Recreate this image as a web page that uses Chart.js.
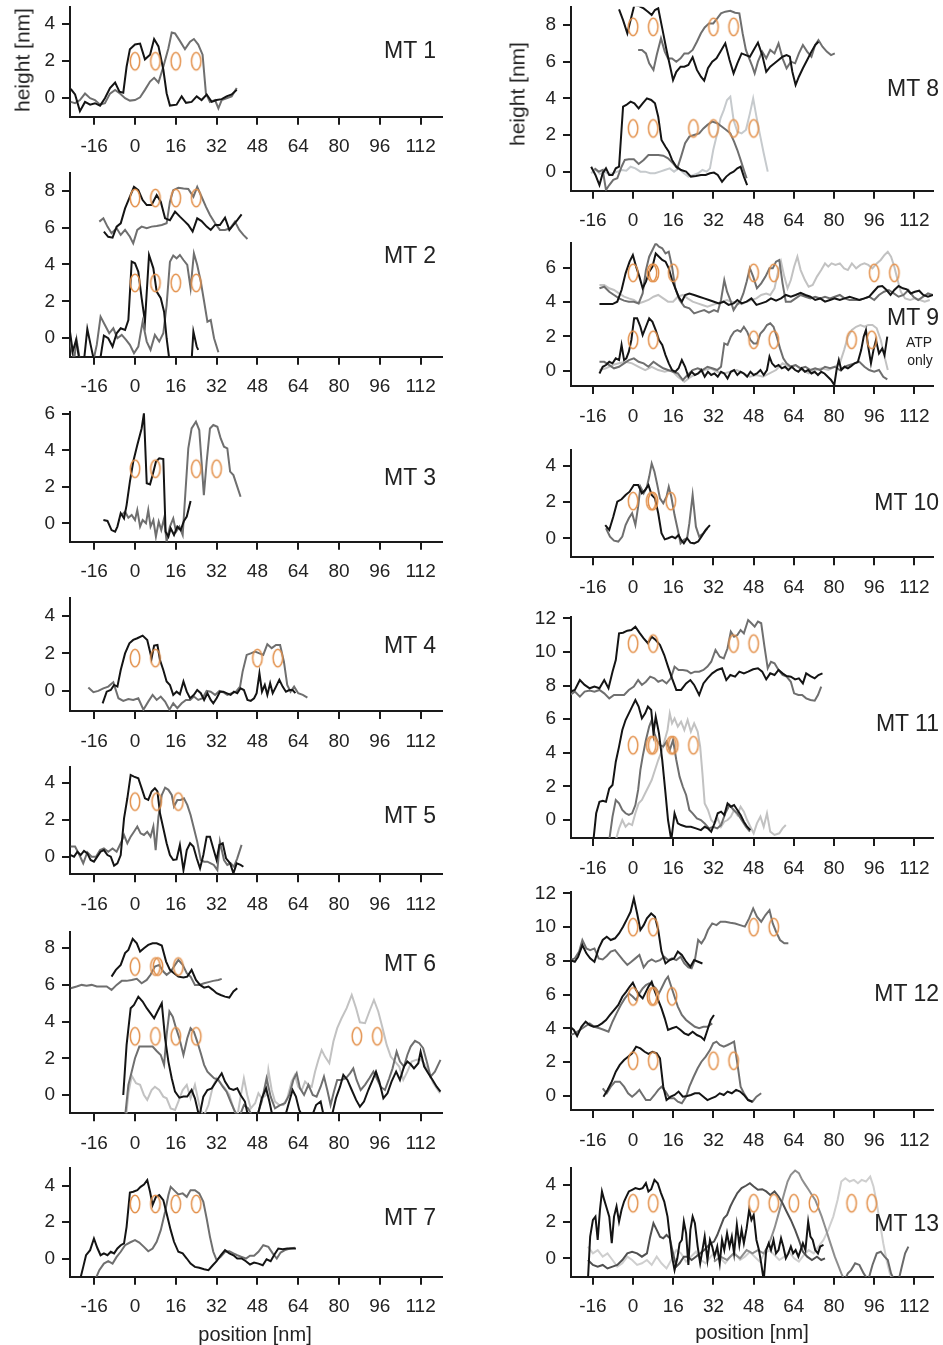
<!DOCTYPE html>
<html>
<head>
<meta charset="utf-8">
<script src="https://cdn.jsdelivr.net/npm/chart.js@4.4.1/dist/chart.umd.min.js"></script>
<style>
  html, body { margin: 0; padding: 0; background: #fff; }
  #page { position: relative; width: 943px; height: 1345px; overflow: hidden; font-family: "Liberation Sans", Arial, sans-serif; color: #222; }
  #page canvas { position: absolute; }
  .lbl { position: absolute; white-space: nowrap; line-height: 1; }
</style>
</head>
<body>
<div id="page"></div>
<script>
// x ticks shared by every panel
const xTicks = [-16, 0, 16, 32, 48, 64, 80, 96, 112];
const yTicks4 = [0, 2, 4];
const yTicks6 = [0, 2, 4, 6];
const yTicks8 = [0, 2, 4, 6, 8];
const yTicks12 = [0, 2, 4, 6, 8, 10, 12];

// traces: flat x,y pairs (nm), null,null = gap
const mt1Black = [-25.2,0.5, -23.5,0.2, -21.6,-0.7, -19.6,-0.2, -17.6,-0.35, -15.7,-0.27, -13.7,-0.4, -11.8,0, -9.8,0.55, -7.8,0.85, -6.1,0.35, -4.6,0.3, -3.3,1.7, -2,2.65, 0,2.9, 2,2.95, 3.9,2.1, 5.9,2.35, 7.5,3.2, 9.2,2.8, 11.1,1.55, 12.4,0.27, 13.7,-0.4, 16.3,-0.35, 18.3,0.1, 20,-0.25, 22.2,-0.2, 24.2,0.1, 26.1,-0.1, 28.1,0.2, 30.1,-0.2, 32,-0.1, 34,-0.05, 35.9,0.1, 37.9,0.2, 39.9,0.45];
const mt1Gray = [-25.2,-0.2, -23.5,-0.27, -21.6,-0.1, -19.6,0.25, -17.6,0, -15.7,-0.1, -13.7,-0.35, -11.8,-0.27, -9.8,0.25, -7.8,0.45, -5.9,0.25, -3.9,0, -2,-0.13, 0,-0.1, 2,0.05, 3.9,0.45, 5.9,0.9, 7.5,1.1, 9.2,0.85, 11.1,1.7, 13.1,2.7, 14.4,3.55, 15.7,3.5, 17.6,3.1, 19.6,2.65, 21.6,3.05, 23.1,3.2, 24.8,2.9, 26.5,2.35, 27.8,0.27, 29.4,-0.2, 31.4,-0.1, 32.7,-0.55, 34,-0.1, 35.9,0, 37.9,0.1, 39.9,0.55];
const mt1Rings = [0,2, 8,2, 16,2, 24,2];

const mt2BlackTop = [-12.2,5.78, -10.5,5.5, -8.8,5.45, -7.2,6.05, -5.6,6.23, -3.9,7.04, -2,7.67, -0.4,8.21, 1.3,8.03, 3,7.49, 4.6,7.22, 6.5,7.22, 8.5,7.76, 10.1,7.4, 11.8,6.5, 13.7,6.4, 15.7,6.86, 17.6,6.59, 19.6,6.32, 20.9,6.14, 22.6,5.78, 24.4,6.5, 26.1,6.35, 28.1,6.05, 29.7,5.87, 31.4,6.14, 33.3,6.14, 35.3,6.53, 37,5.87, 38.6,6.14, 40.1,6.4, 41.8,6.71];
const mt2GrayTop = [-14,6.32, -12.4,6.5, -10.8,6.05, -9.2,5.69, -7.2,5.96, -5.6,5.6, -3.9,5.87, -2,5.5, -0.7,5.14, 0.9,5.87, 2.6,6.05, 4.6,5.96, 6.5,6.05, 8.5,6.08, 10.5,6.14, 12.4,6.23, 13.7,7.4, 15,8.03, 17,8.16, 19,8.12, 20.9,8.09, 22.9,7.67, 24.4,8.21, 26.1,7.67, 27.8,7.13, 29.4,6.68, 31.4,6.23, 33.3,5.87, 35.3,5.87, 37.3,5.96, 39.2,6.32, 40.9,5.87, 42.5,5.6, 44.1,5.38];
const mt2Black = [-25.5,0.36, -24.4,-0.72, -23.1,-0.09, -21.8,-1.2, -20,-1.2, -18.7,0.5, -17.4,-0.36, -16.1,-1.2, -13.7,-1.2, -12.2,0.14, -10.5,0, -8.8,-0.45, -7.2,0.27, -5.6,0.54, -3.9,0.45, -2.6,0.99, -1.3,4.15, 0,4.06, 1.3,3.61, 2.6,2.17, 3.9,0.9, 5.5,4.51, 7.2,3.79, 8.5,2.53, 10.1,2.17, 11.4,1.44, 12.4,0, 13.5,-1.2, null,null, 22.2,-1.2, 22.9,0.36, 24.2,-0.45, 24.8,-0.63];
const mt2Gray = [-25.5,-0.18, -23.9,-1.2, -22.9,-0.09, -21.6,-1.2, -16.3,-1.2, -15,-0.36, -13.5,1.17, -11.8,0.72, -10.1,0.27, -8.5,0.54, -6.9,0, -5.2,0.18, -3.5,-0.09, -2,-0.36, -0.4,-0.81, 1.3,-0.45, 3,0.9, 4.6,-0.18, 6.1,-0.63, 7.8,0.18, 9.5,-0.18, 11.1,0.27, 12.4,1.8, 13.7,4.15, 15,4.48, 16.3,4.33, 17.6,4.51, 19,4.24, 20.5,3.97, 21.8,2.71, 23.1,4.6, 24.4,3.97, 25.8,3.07, 27.1,1.99, 28.4,0.9, 29.7,0.99, 31,0, 32.7,-0.76];
const mt2Rings = [0,7.6, 8,7.6, 16,7.6, 24,7.6, 0,3, 8,3, 16,3, 24,3];

const mt3Black = [-12.4,0.18, -10.8,0.13, -9.2,-0.37, -7.8,-0.46, -6.9,-0.18, -5.6,0.55, -4.3,0.27, -3.3,1, -2,2.29, -0.7,3.38, 0.9,4.3, 2.6,5.21, 3.5,6.04, 4.6,2.2, 5.9,2.14, 6.9,2.65, 8.2,3.38, 9.5,3.57, 11.1,3.53, 12,-0.46, 13.1,-0.73, 14,-0.27, 15.3,-0.64, 16.6,-0.18, 17.9,-0.37, 19.2,0.13, 20.3,0.37, 21.8,1.23];
const mt3Gray = [-5.2,0.46, -3.9,0.64, -2.6,0.31, -1.3,0.46, 0,0.18, 0.9,0.73, 2,-0.18, 3,0.18, 4.3,0, 5.2,0.73, 6.1,-0.18, 7.2,0.18, 8.2,-0.73, 9.3,0.09, 10.3,-0.37, 11.4,0.27, 12.4,-1, 13.7,-0.18, 15,0.27, 16.1,-0.46, 17.4,-0.18, 18.7,-0.64, 19.7,1.55, 20.9,4.12, 22.2,5.21, 23.9,5.58, 25.2,5.12, 26.1,3.38, 27,1.55, 28.1,3.38, 29.4,5.21, 30.7,5.4, 32.3,5.3, 33.6,4.66, 34.9,4.21, 36.2,4.12, 37.3,2.84, 38.6,2.65, 39.9,2.1, 41.4,1.46];
const mt3Rings = [0,3, 8,3, 24,3, 32,3];

const mt4Black = [-12.7,-0.66, -11.1,-0.04, -9.5,0.05, -8.2,0.32, -6.9,0.23, -5.6,1.12, -3.9,2.0, -2.2,2.54, -0.7,2.72, 0.9,2.81, 3,2.95, 4.8,2.72, 6.5,1.74, 7.5,2.42, 8.8,2.45, 9.8,1.65, 11.1,1.12, 12.4,0.5, 13.7,0.32, 15,-0.21, 16.3,-0.04, 17.6,-0.18, 19,0.5, 20.3,-0.04, 21.6,-0.39, 23.1,-0.21, 24.4,0.05, 25.8,-0.12, 27.1,-0.48, 28.4,-0.12, 29.7,-0.48, 30.7,-0.66, 32,-0.39, 33.3,-0.04, 34.6,-0.04, 35.9,-0.12, 37.5,-0.21, 38.8,-0.04, 40.1,-0.12, 41.4,0.14, 42.7,0.05, 44.1,-0.48, 45.4,-0.53, 46.7,-0.39, 47.7,-0.12, 48.8,0.94, 49.8,-0.04, 50.9,0.32, 51.9,-0.21, 53,0.41, 54,-0.12, 55.3,0.23, 56.6,0.59, 57.9,0.23, 59.2,-0.04, 60.5,0.05, 61.8,0.05, 62.9,-0.12];
const mt4Gray = [-18.3,0.18, -16.3,-0.07, -14.4,0, -12.4,0.14, -10.5,0.23, -8.5,0.46, -6.5,-0.39, -4.6,-0.53, -2.6,-0.43, -0.7,-0.48, 1.3,-0.39, 3.3,-1, 5.2,-0.57, 6.9,-0.21, 8.5,-0.48, 10.1,-0.3, 11.8,-0.57, 13.5,-1, 15,-0.66, 16.6,-0.92, 18.3,-0.66, 20,-0.48, 21.6,-0.48, 23.1,-0.3, 24.8,-0.48, 26.5,-0.39, 28.1,0, 29.7,-0.04, 31.4,-0.21, 33.1,0, 34.6,-0.07, 36.2,-0.21, 37.9,-0.12, 39.6,-0.04, 41.2,0.23, 42.2,1.03, 43.8,1.92, 45.4,2.0, 47.1,2.1, 48.8,2.0, 50.3,1.92, 51.9,2.49, 53.6,2.28, 55.3,2.45, 56.9,2.45, 58.4,1.56, 59.7,0.32, 61,-0.04, 62.4,0.23, 64,-0.12, 65.8,-0.21, 67.6,-0.36];
const mt4Rings = [0,1.75, 8,1.75, 48,1.75, 56,1.75];

const mt5Black = [-25.2,0.09, -23.9,0, -22.6,0.27, -21.3,0.09, -20,0.31, -18.7,0.18, -17.4,-0.18, -16.1,-0.27, -14.8,0, -13.5,0.27, -12.2,0.36, -10.8,0.09, -9.5,0, -8.2,-0.49, -6.9,-0.36, -5.6,0.09, -4.3,2.09, -3,3.18, -1.7,4.45, -0.4,4.36, 1.3,4.27, 2.6,3.73, 3.9,3.18, 5.2,3.09, 6.5,3.55, 7.8,3.73, 8.8,3.55, 9.8,2.36, 11.1,1.55, 12.4,0.73, 13.7,0.09, 15,-0.18, 16.3,-0.15, 17.6,0.64, 19,-0.73, 20.3,0.36, 21.6,0.73, 22.9,0.55, 24.2,-0.09, 25.5,-0.64, 26.8,0.09, 28.1,1.09, 29.4,1.09, 30.7,0.45, 32,-0.18, 33.1,0.64, 34.4,0.73, 35.7,-0.09, 37.3,-0.36, 38.6,-0.91, 39.9,-0.36, 41.4,-0.45, 42.5,-0.55];
const mt5Gray = [-25.2,0.55, -23.5,0.55, -21.8,0.09, -20.3,-0.36, -18.7,0.24, -17,0, -15.3,0, -13.7,0.36, -12.2,0.45, -10.5,0.27, -8.8,0.45, -7.2,0.27, -5.6,0.73, -4.3,1.18, -3,0.73, -1.7,1.09, -0.4,1.36, 0.9,1.64, 2.2,1.27, 3.5,1.18, 4.8,1.36, 6.1,1.09, 7.2,1.64, 8.1,0.36, 9.2,2.18, 10.5,3.36, 11.8,3.76, 13.1,3.64, 14.4,3.36, 15.3,2.73, 16.6,3.09, 17.9,3.09, 19.2,3.18, 20.5,2.82, 21.8,2.27, 23.1,1.55, 24.4,0.82, 25.8,-0.18, 27.1,-0.27, 28.4,-0.27, 29.7,-0.36, 30.9,-0.45, 32.3,-0.73, 33.3,0.82, 34.9,-0.18, 36.2,-0.45, 37.5,-0.36, 38.8,-0.55, 40.1,-0.09, 41.8,0.64];
const mt5Rings = [0,3, 8.5,3, 17,3];

const mt6BlackTop = [-9.2,6.45, -7.5,6.82, -5.6,7.09, -3.9,7.73, -2.6,7.91, -0.9,8.51, 0.7,8.27, 2,7.82, 3.5,8.0, 5.2,8.18, 6.9,8.27, 8.5,8.27, 10.5,8.15, 12.2,7.27, 13.7,6.82, 15.3,6.64, 17,6.45, 19,6.4, 20.5,6.45, 22.2,6.82, 23.9,6.27, 25.5,6.0, 27.1,5.85, 28.8,5.91, 30.5,5.73, 32,5.55, 33.6,5.45, 35.3,5.36, 37,5.31, 38.6,5.64, 40.1,5.82];
const mt6GrayTop = [-25.2,5.82, -22.9,5.91, -20.9,6.0, -19,5.96, -17,6.0, -15,5.91, -13.1,5.91, -11.1,5.91, -9.2,5.73, -7.2,6.0, -5.2,6.22, -3.3,6.22, -1.3,6.27, 0.7,6.33, 2.6,6.09, 4.6,6.27, 6.1,6.55, 7.8,7.0, 9.5,7.09, 11.1,6.73, 12.4,6.55, 14,6.73, 15.7,7.09, 17,7.36, 18.7,7.09, 20.3,6.64, 21.8,6.45, 23.5,6.0, 25.2,6.0, 27.1,6.09, 28.8,6.15, 30.7,6.22, 32.7,6.27, 34,6.33];
const mt6Black = [-4.6,0, -3.3,2.73, -1.7,4.73, -0.4,4.91, 1.3,5.36, 3,5.09, 4.6,4.73, 6.1,4.45, 7.5,4.18, 8.8,4.55, 10.5,5.0, 11.8,3.09, 13.1,1.82, 14.4,0.91, 15.7,0.18, 17.4,-0.15, 19,-0.09, 20.5,-0.09, 22.2,0.27, 23.5,-0.18, 25.2,-1.2, 26.8,-0.09, 28.4,0.27, 30.1,0.36, 31.4,0.64, 32.7,0.91, 34,1.18, 35.3,0.73, 37,0.36, 38.6,0.27, 40.1,0.36, 41.4,0, 43.1,-0.36, 44.4,-1.2, 48,-1.2, 49.7,-0.18, 51.4,0.36, 52.7,-0.36, 54,-1.2, 58.8,-1.2, 60.5,-0.36, 61.8,0.27, 63.1,-0.09, 64.4,-0.82, 65.8,-1.2, 69.3,-1.2, 71,-0.55, 72.8,-0.36, 74.1,-1.2, 77.1,-1.2, 78.8,-0.18, 80.4,0.45, 81.7,1.09, 83.3,0.82, 85,0.27, 86.7,-0.27, 88.2,-0.64, 89.8,-0.36, 91.5,0.27, 93.2,0.82, 94.5,1.27, 95.8,0.73, 97.4,-0.18, 99,0.09, 100.6,0.73, 102.4,1.27, 103.9,0.82, 105.5,1.55, 106.8,1.82, 108.1,1.67, 109.4,1.45, 111.1,1.73, 112,2.36, 113.4,1.55, 115,1.18, 116.7,0.82, 118.3,0.45, 119.8,0.18];
const mt6Gray = [-3.9,-1.2, -2.6,0.55, -1.3,1.27, 0,2.0, 1.7,2.64, 3.3,2.64, 5.2,2.64, 6.9,2.64, 8.5,2.4, 10.1,2.18, 11.4,1.64, 12.4,3.27, 13.5,4.55, 14.8,4.27, 16.1,3.64, 17.4,3.09, 19,2.18, 20.5,3.09, 21.8,3.64, 23.1,3.45, 24.4,2.91, 25.8,2.27, 27.1,1.64, 28.4,1.27, 29.7,1.09, 31,0.91, 32.7,0.82, 34.4,0.45, 35.9,0.18, 37.5,-0.36, 39.2,-0.91, 40.9,-1.2, 42.7,-0.55, 44.4,-0.73, 46.1,-1.2, 47.7,-1.2, 49.7,-0.36, 51.6,0.91, 53.2,-0.09, 54.9,-0.73, 56.9,-0.55, 58.8,-0.45, 60.5,0, 62.1,0.82, 63.4,1.18, 64.7,0.36, 66.3,0, 68,0.55, 69.7,0, 71.2,-0.09, 72.8,0.45, 74.1,1.0, 75.4,0.27, 76.7,-0.55, 78,0.18, 79.3,0.82, 81,0.82, 82.7,0.91, 84.3,1.18, 85.6,1.45, 86.9,0.82, 88.5,0.27, 90.2,0.55, 91.9,0.91, 93.5,1.27, 94.8,0.91, 96.3,0.45, 98,0.27, 99.7,0.91, 101,1.45, 102.6,2.36, 103.9,1.82, 105.5,1.55, 106.8,2.18, 108.1,2.64, 109.8,2.95, 111.5,2.82, 113,2.55, 114.6,1.73, 115.9,1.0, 117.6,1.27, 119.8,1.91];
const mt6Light = [-3.5,-1.2, -2.6,0.09, -1.3,1.05, 0.4,0.64, 2,0.55, 3.5,0, 4.8,-0.27, 6.5,0.27, 7.8,0.45, 9.5,0.27, 11.1,-0.09, 12.4,-0.18, 14,-0.73, 15.7,-0.82, 17,-0.36, 18.7,0.27, 20.3,0.55, 21.8,-0.18, 23.5,0.55, 25.2,-0.55, 26.8,-1.2, 28.8,-0.55, 30.5,0.45, 32,0.91, 33.6,0.64, 35.3,0.36, 37,0, 38.6,-0.73, 40.1,-1.2, 41.4,-0.09, 42.7,0.91, 44,0, 45.4,-0.73, 47.1,-0.45, 48.4,0.09, 49.7,-0.18, 51.4,0, 52.3,1.36, 53.6,0.27, 54.9,-0.36, 56.6,-0.55, 58.2,-0.55, 59.7,-0.18, 61.4,0.73, 62.7,1.09, 64,0.45, 65.4,0.27, 66.7,0.73, 68,0.55, 69.3,0.45, 70.6,1.27, 71.9,1.91, 73.2,2.45, 74.5,2.09, 76.2,1.73, 77.8,2.91, 79.3,3.64, 81,4.18, 83,4.73, 85,5.45, 86.7,4.73, 88.2,3.96, 90.2,3.91, 91.9,4.55, 93.7,5.18, 95.4,4.55, 97.1,3.64, 98.7,2.73, 100.3,2.09, 102,1.82, 103.6,1.55, 105.2,0.82, 106.8,1.27, 108.5,1.82, 110.2,1.91, 111.8,1.96, 113.4,1.73, 115,1.27, 117,0.64, 119.6,0.09];
const mt6Rings = [0,7, 8,7, 9,7, 17,7, 0,3.2, 8,3.2, 16,3.2, 24,3.2, 87,3.2, 95,3.2];

const mt7Black = [-21.6,-1.2, -20.3,-0.46, -19.2,0.18, -17.6,0.46, -16.1,1.1, -14.8,0.59, -13.5,0.18, -12.2,0.28, -10.8,0.18, -9.5,0.37, -8.2,0.28, -6.9,0.55, -5.6,0.73, -4.3,0.83, -3.3,1.74, -2,3.63, -0.7,3.67, 0.9,3.76, 2.2,3.94, 3.5,4.07, 4.8,4.31, 5.9,3.67, 6.9,2.94, 8.2,3.39, 9.5,3.49, 11.1,3.21, 12.4,2.48, 14,1.56, 15.3,0.92, 17,0.37, 18.7,0.28, 20.3,0, 21.8,-0.28, 23.5,-0.46, 25.2,-0.51, 27.1,-0.59, 28.8,-0.64, 30.5,-0.37, 32,-0.15, 33.6,0.18, 35.3,0.46, 37,0.28, 38.6,0.18, 40.1,0, 41.8,0, 43.5,-0.15, 45.1,-0.33, 46.7,-0.22, 48.4,-0.28, 50.1,-0.37, 51.6,-0.04, 53.2,-0.15, 54.5,0.18, 56.2,0.55, 57.9,0.51, 59.7,0.55, 61.4,0.55, 63.1,0.55];
const mt7Gray = [-15.7,-1.2, -14,-0.64, -12.2,-0.28, -10.5,-0.15, -8.8,-0.28, -7.2,0.09, -5.6,0.37, -3.9,0.73, -2,0.88, 0,1.01, 1.7,0.88, 3.5,0.64, 5.2,0.4, 6.9,0.55, 8.5,0.92, 10.1,1.56, 11.8,2.57, 13.1,3.49, 14,3.94, 15.3,3.76, 17,3.52, 18.7,3.58, 20.3,3.39, 21.8,3.76, 23.5,3.76, 25.2,3.58, 26.8,3.12, 28.1,2.2, 29.4,1.19, 30.7,0.37, 32,-0.09, 33.6,0.09, 35.3,0.37, 37,0.4, 38.6,0.28, 40.1,0.18, 41.8,0.09, 43.5,0, 45.1,0.15, 46.7,0.15, 48.4,0.37, 50.3,0.73, 52.3,0.64, 54,0.28, 55.6,0, 57.1,0.33, 58.8,0.46, 60.8,0.55, 62.7,0.59];
const mt7Rings = [0,3, 8,3, 16,3, 24,3];

const mt8BlackTop = [-5.6,8.85, -4,8.27, -2.3,7.55, -1,8.27, 0.5,9.09, 2.2,9.04, 4.2,8.91, 5.9,8.73, 7.4,8.55, 8.7,8.82, 10,8.91, 11.6,7.82, 13.3,6.64, 14.6,5.82, 15.9,5.0, 17.2,5.45, 18.9,5.73, 20.4,5.73, 22,5.82, 23.7,6.24, 25.4,5.55, 27,5.18, 28.3,4.96, 29.8,5.64, 31.5,6.0, 33.2,6.18, 34.8,6.55, 36.7,7.0, 38.4,6.09, 40,5.36, 41.5,5.91, 43.2,6.45, 44.9,6.36, 46.5,6.27, 48,6.64, 49.7,7.04, 51.4,6.36, 53,5.45, 54.6,5.73, 56.3,5.91, 57.9,6.09, 59.5,6.27, 61.1,6.36, 62.4,6.27, 63.4,5.45, 64.7,4.73, 66,5.18, 67.6,5.64, 69.3,6.09, 71,6.55, 72.5,6.91, 73.8,7.09];
const mt8GrayTop = [2,6.64, 3.5,6.64, 5.1,6.45, 6.4,5.91, 8.1,5.55, 9.4,6.36, 11.1,7.27, 12.6,6.55, 13.9,6.18, 15.5,6.18, 17.2,6.0, 18.9,6.18, 20.4,6.45, 22,6.45, 23.7,6.64, 25.4,7.09, 27,7.55, 28.5,7.87, 30.2,8.09, 31.9,8.09, 33.5,8.36, 35,8.64, 36.7,8.73, 38.7,8.78, 40.6,8.67, 42.3,8.64, 43.6,7.55, 44.9,6.64, 46.2,6.18, 47.5,5.73, 48.4,5.36, 49.7,6.0, 51.4,6.55, 53,6.18, 54.6,6.64, 56.3,6.45, 57.9,7.0, 59.5,6.18, 61.1,5.64, 62.8,6.0, 64.5,5.91, 66,6.45, 67.6,6.91, 69.3,6.55, 71,6.27, 72.5,6.91, 73.8,7.18, 75.4,6.82, 77.1,6.55, 78.8,6.36, 80.3,6.45];
const mt8Black = [-16.7,0.27, -15,-0.18, -13.4,-0.73, -12.1,-0.09, -10.8,0.18, -9.5,-0.18, -8.2,-0.18, -6.9,0.18, -5.6,0.27, -4,3.55, -2.7,3.64, -1,3.82, 0.5,3.73, 2.2,3.45, 3.8,3.73, 5.5,4.0, 7.2,3.91, 8.7,3.73, 10,3.0, 11.3,1.73, 12.9,1.36, 14.2,1.09, 15.5,0.64, 17.2,0.27, 19.1,0.09, 21.1,0, 23,-0.27, 25,-0.24, 27,-0.18, 28.9,-0.18, 30.6,-0.09, 32.2,-0.05, 33.7,-0.18, 35.4,-0.55, 37.1,-0.27, 38.7,-0.09, 40,0, 41.5,0.18, 42.8,0.27, 44.1,-0.27, 45.4,-0.73];
const mt8Gray = [-15.4,0.18, -13.7,0, -12.1,0.09, -10.8,-1.0, -9.5,-0.73, -7.9,-0.45, -6.3,-0.36, -4.6,0.27, -3.3,0.64, -1.7,0.67, 0.3,0.67, 2.2,0.42, 4.2,0.64, 6.1,0.91, 8.1,0.91, 10,0.91, 12,0.87, 13.9,0.73, 15.9,0.45, 17.6,0.18, 19.1,0.82, 20.7,1.55, 22.4,1.91, 24.3,2.0, 26.3,2.09, 28,2.36, 29.6,2.55, 31.5,2.73, 33.5,2.64, 35.4,2.45, 37.1,2.27, 38.7,2.09, 40.2,1.64, 41.5,1.18, 42.8,0.64, 44.1,0.09, 45.2,-0.36];
const mt8Light = [-16.7,-0.09, -15,0.13, -13.2,-0.13, -11.5,0, -9.8,-0.13, -7.9,-0.09, -6.3,0, -4.6,0.09, -2.7,0.05, -1,0.27, 0.9,0.18, 2.9,0, 4.8,0, 6.8,-0.09, 8.7,-0.09, 10.7,0, 12.6,0.09, 14.6,0.18, 16.3,0, 18.1,0.18, 20.2,-0.09, 22,-0.27, 24.1,-0.18, 25.9,-0.09, 27.6,0.09, 29.3,0, 30.6,0.18, 31.9,1.18, 33.5,2.09, 34.8,2.91, 36.1,3.36, 37.4,3.91, 38.7,4.09, 40,2.82, 41.5,2.18, 43.2,2.09, 44.9,2.27, 46.5,3.18, 47.8,4.0, 49.1,3.0, 50.4,2.09, 52,1.0, 53.6,0];
const mt8Rings = [0,7.9, 8,7.9, 32,7.9, 40,7.9, 0,2.36, 8,2.36, 24,2.36, 32,2.36, 40,2.36, 48,2.36];

const mt9BlackTop = [-13.4,3.88, -10.8,3.88, -8.2,3.88, -6.3,4.02, -4.6,4.7, -3,5.67, -1.4,6.35, -0.1,6.74, 1.2,6.06, 2.5,5.48, 3.8,4.8, 5.1,5.19, 6.4,5.77, 7.7,6.06, 9,6.83, 10.3,6.64, 11.6,6.45, 12.9,6.35, 14.2,5.96, 15.5,5.28, 16.8,4.8, 18.1,4.31, 19.4,4.02, 20.7,4.41, 22.4,4.5, 24.3,4.41, 26.3,4.31, 28.3,4.21, 30.2,4.12, 32.2,4.02, 34.1,3.92, 36.1,4.02, 38,3.83, 40,3.92, 41.5,4.12, 43.2,3.92, 45.2,4.02, 47.1,4.21, 49.1,3.83, 51,3.92, 53,4.02, 54.9,4.21, 56.9,4.08, 58.9,4.21, 60.8,4.41, 62.8,4.31, 64.7,4.41, 66.7,4.54, 68.6,4.41, 70.6,4.31, 72.5,4.12, 74.5,4.21, 76.4,4.02, 78.4,4.12, 80.3,4.21, 82.3,4.12, 84.2,4.21, 86.2,4.31, 88.2,4.21, 90.1,4.12, 92.1,4.21, 94,4.31, 95.7,4.6, 97.5,4.89, 99.2,4.93, 100.9,4.7, 102.5,4.41, 104,4.7, 105.7,4.93, 107.4,4.8, 109,4.74, 110.5,4.5, 112.2,4.6, 113.9,4.66, 115.5,4.41, 117.4,4.31, 119.4,4.41];
const mt9GrayTop = [-13.4,4.8, -11.5,4.89, -9.5,4.6, -7.6,4.41, -5.6,4.21, -3.6,4.08, -1.7,4.02, 0.3,4.02, 2.2,3.92, 3.8,4.5, 5.1,5.86, 6.4,6.64, 7.7,7.03, 9,7.42, 10.3,7.22, 11.6,7.13, 12.9,6.83, 14.2,6.93, 15.5,6.06, 16.8,4.8, 18.5,4.12, 20.4,3.73, 22.4,3.63, 24.3,3.34, 26.3,3.44, 28.3,3.53, 30.2,3.38, 32.2,3.53, 33.7,3.44, 35,4.12, 36.3,5.28, 37.4,4.6, 38.7,4.12, 40,3.53, 41.3,3.83, 42.6,4.02, 43.9,4.5, 45.2,5.18, 46.5,5.96, 47.8,5.48, 49.3,4.8, 51,5.09, 52.7,5.48, 54.3,5.96, 55.6,5.96, 56.9,6.35, 58.2,6.45, 59.5,5.09, 60.8,4.02, 62.8,4.02, 64.7,4.21, 66.7,4.41, 68.6,4.31, 70.6,4.21, 72.5,4.31, 74.5,4.21, 76.4,4.31, 78.4,4.21, 80.3,4.31, 82.3,4.41, 84.2,4.21, 86.2,4.12, 88.2,4.12, 90.1,4.12, 92.1,4.21, 94,4.31, 96,4.12, 97.9,4.41, 99.9,4.6, 101.8,4.7, 103.8,4.5, 105.7,4.31, 107.7,4.41, 109.6,4.7, 111.6,4.31, 113.5,4.12, 115.5,4.31, 117.4,4.5, 119.4,4.41];
const mt9LightTop = [-13.4,4.99, -11.5,4.99, -9.5,4.8, -7.6,4.7, -5.6,4.5, -3.6,4.31, -1.7,4.21, 0.3,4.12, 2.2,3.92, 4.2,4.02, 6.1,4.12, 8.1,4.31, 10,4.41, 12,4.21, 13.9,4.02, 15.9,4.02, 17.8,4.31, 19.8,4.41, 21.7,4.21, 23.7,4.02, 25.7,3.92, 27.6,3.83, 29.6,3.73, 31.5,3.83, 33.5,3.92, 35.4,4.02, 37.4,4.12, 39.3,4.02, 41.3,3.96, 43.2,3.88, 45.2,4.02, 47.1,4.12, 49.1,4.21, 51,4.41, 53,4.5, 54.6,4.41, 56.3,4.8, 57.6,5.67, 58.9,6.35, 60.2,5.48, 61.5,4.8, 62.8,5.28, 64.1,6.06, 65.4,6.64, 66.7,5.86, 68.4,5.28, 69.9,4.89, 71.5,4.99, 73.2,5.48, 74.9,5.86, 76.4,6.25, 77.7,6.06, 79,6.25, 80.6,6.16, 82.3,6.25, 84,5.96, 85.5,5.86, 87.1,6.25, 88.8,5.96, 90.5,6.16, 92.1,6.25, 93.6,6.16, 95.3,5.96, 97,6.25, 98.6,6.45, 100.1,6.74, 101.4,6.93, 102.7,6.64, 104,6.06, 105.3,5.28, 106.6,4.6, 108.3,4.21, 110.3,4.12, 112.2,4.21, 114.2,4.12, 116.1,4.02, 118.1,4.12];
const mt9Black = [-13.4,-0.16, -12.1,0.23, -10.8,0.33, -9.5,0.52, -8.2,0.43, -6.9,0.72, -5.6,0.62, -4.6,1.5, -3.6,0.62, -2.7,0.72, -1.7,1.11, -0.7,1.79, 0.4,3.05, 1.6,3.05, 2.9,2.56, 3.8,2.08, 5.1,2.56, 6.4,3.05, 7.7,2.85, 9,2.37, 10.3,1.79, 11.6,1.5, 12.9,0.91, 14.2,0.43, 15.5,0.04, 16.8,-0.06, 18.1,0.14, 19.4,0.62, 20.7,0.23, 22,-0.35, 23.3,-0.06, 24.6,-0.25, 25.9,-0.16, 27.2,0.04, 28.5,-0.35, 29.8,-0.06, 31.1,-0.25, 32.4,-0.16, 33.7,-0.35, 35,-0.06, 36.3,-0.16, 37.6,-0.45, 38.9,-0.06, 40.2,0.04, 41.5,-0.25, 42.8,-0.06, 44.1,-0.16, 45.4,-0.35, 46.7,-0.06, 48,-0.25, 49.3,-0.16, 50.7,0.04, 52,-0.25, 53.3,0.04, 54.3,0.82, 55.3,0.43, 56.6,0.23, 57.9,0.33, 59.2,0.14, 60.5,0.23, 61.8,0.04, 63.2,0.23, 64.5,0.04, 65.8,-0.06, 67.1,0.14, 68.4,-0.06, 69.7,0.04, 71,-0.16, 72.3,-0.06, 73.6,-0.25, 74.9,-0.06, 76.2,-0.16, 77.5,-0.35, 78.8,-0.54, 80.1,-0.83, 81,0.04, 81.9,0.62, 82.9,0.04, 84.2,0.23, 85.5,0.14, 86.8,0.27, 88.2,0.43, 89.5,0.52, 90.8,1.2, 91.8,1.98, 92.7,2.37, 93.6,1.4, 94.7,0.43, 95.7,1.2, 96.7,1.79, 97.9,1.01, 99.2,1.3, 100.1,0.91, 101.2,1.98];
const mt9Gray = [-13.4,0.52, -11.5,0.52, -9.5,0.33, -7.6,0.14, -5.6,0.23, -3.6,0.43, -1.7,0.62, 0.3,0.72, 2.2,0.52, 4.2,0.43, 6.1,0.23, 8.1,0.52, 10,0.33, 12,0.14, 13.9,0.04, 15.9,-0.06, 17.8,-0.16, 19.8,-0.54, 21.7,-0.25, 23.7,0.04, 25.7,0.14, 27.6,0.04, 29.6,0.23, 31.5,0.14, 33.5,0.04, 35,0.23, 36.3,1.59, 37.6,1.5, 38.9,1.98, 40.2,2.27, 41.5,2.37, 42.8,2.27, 44.1,2.56, 45.4,2.27, 46.7,1.79, 48,1.59, 49.3,1.59, 50.7,2.17, 52,2.37, 53.3,2.66, 54.6,2.76, 55.9,2.56, 57.2,1.98, 58.5,1.3, 59.8,0.72, 61.1,0.43, 62.8,0.23, 64.7,0.33, 66.7,0.14, 68.6,0.23, 70.6,0.04, 72.5,0.14, 74.5,0.04, 76.4,0.23, 78.4,0.14, 80.3,0.23, 82.3,0.04, 84.2,0.23, 86.2,0.33, 88.2,0.43, 90.1,0.52, 92.1,0.23, 94,0.04, 96,-0.06, 97.9,0.04, 99.6,-0.35, 101.2,-0.5];
const mt9Light = [-13.4,0.04, -10.8,0.14, -8.2,0.33, -5.6,0.43, -3,0.52, -0.4,0.43, 2.2,0.23, 4.8,0.04, 7.4,0.23, 10,0.04, 12.6,-0.06, 15.2,0.04, 17.8,-0.35, 20.4,-0.64, 23,-0.35, 25.7,-0.16, 28.3,0.04, 30.9,0.14, 33.5,-0.06, 36.1,-0.16, 38.7,-0.06, 41.3,0.04, 43.9,-0.16, 46.5,-0.35, 49.1,-0.25, 51.7,-0.35, 54.3,-0.16, 56.9,0.04, 59.5,0.43, 62.1,0.23, 64.7,0.33, 67.3,0.04, 69.9,-0.16, 72.5,0.04, 75.1,0.14, 77.7,0.04, 80.3,0.23, 82.3,0.43, 84,1.2, 85.5,1.98, 87.1,2.37, 88.8,2.56, 90.5,2.66, 92.1,2.56, 93.6,2.66, 95.3,2.66, 97,2.47, 98.6,1.79, 100.1,0.82, 101.4,0.04];
const mt9Rings = [0,5.7, 7.5,5.7, 8.3,5.7, 16,5.7, 48,5.7, 56,5.7, 96,5.7, 104,5.7, 0,1.8, 8,1.8, 48,1.8, 56,1.8, 87,1.8, 95,1.8];

const mt10Black = [-11.1,0.73, -9.5,0.46, -7.9,1.19, -6.3,2.02, -4.6,2.15, -3,2.39, -1.4,2.57, 0.3,2.94, 2,2.94, 3.5,2.48, 4.8,2.66, 6.1,2.94, 7.4,2.39, 8.7,2.2, 10,1.38, 11.3,0.28, 12.6,-0.06, 13.9,0, 15.5,0.09, 16.8,0, 18.1,0.18, 19.1,-0.09, 20.2,-0.28, 21.5,0, 22.8,-0.24, 24.3,-0.28, 25.9,-0.18, 27.2,0.09, 28.9,0.46, 30.6,0.73];
const mt10Gray = [-10.8,0.55, -9.2,0.09, -7.6,-0.13, -5.9,-0.18, -4.3,0.09, -3,0.73, -1.7,1.1, -0.4,1.38, 0.9,0.73, 2,1.74, 2.9,2.84, 4.2,2.48, 5.5,2.84, 6.4,3.39, 7.4,4.13, 8.5,3.67, 9.5,3.03, 10.7,2.2, 12,1.93, 13.3,2.29, 14.2,2.84, 15.2,2.29, 16.5,1.28, 17.8,0.46, 18.9,-0.28, 20.2,-0.09, 21.5,0, 22.4,0.83, 23.7,2.39, 25,0.64, 26.3,0.09, 28,0.28, 29.6,0.55];
const mt10Rings = [0,2.05, 7.2,2.05, 7.9,2.05, 15,2.05];

const mt11BlackTop = [-25.1,7.64, -23.2,7.74, -21.2,8.33, -19.3,8.04, -17.3,7.84, -15.4,7.94, -13.4,7.84, -11.5,8.33, -9.8,7.84, -8.2,8.83, -6.9,9.52, -5.6,11.11, -4,11.15, -2.3,11.27, -0.7,11.31, 0.9,11.51, 2.5,11.15, 4.2,10.81, 5.9,10.52, 7.4,10.91, 9,10.71, 10.7,10.42, 12.4,9.82, 13.9,9.13, 15.5,8.43, 17.2,7.74, 19.1,7.74, 21.1,8.13, 22.8,8.33, 24.3,8.04, 26.3,7.44, 28,8.13, 29.6,8.43, 31.5,8.73, 33.5,8.93, 35.4,9.03, 37.1,8.33, 38.7,8.63, 40.6,8.53, 42.3,8.83, 44.1,8.73, 45.8,8.83, 47.8,8.97, 49.7,9.03, 51.4,8.83, 53,8.37, 54.6,8.73, 56.3,8.63, 57.9,8.93, 59.5,8.73, 61.1,8.57, 62.8,8.53, 64.5,8.37, 66,8.43, 67.6,8.13, 68.9,8.73, 70.6,8.57, 72.3,8.43, 73.8,8.63, 75.4,8.73];
const mt11GrayTop = [-25.1,7.44, -23.2,7.64, -21.2,7.34, -19.3,7.64, -17.3,7.7, -15.4,7.64, -13.4,7.74, -11.5,7.54, -9.5,7.24, -7.6,7.44, -5.6,7.44, -3.6,7.44, -1.7,7.74, 0.3,7.94, 2,8.33, 3.5,8.04, 5.1,8.23, 6.8,8.53, 8.5,8.43, 10,8.23, 11.6,8.33, 13.3,8.13, 15,8.43, 16.5,9.13, 18.1,8.93, 19.8,8.93, 21.5,8.89, 23,8.73, 24.6,8.83, 26.3,8.83, 28,8.93, 29.6,9.13, 31.1,9.42, 32.8,10.12, 34.5,9.72, 36.1,9.62, 37.6,10.22, 38.9,11.21, 40.2,10.91, 41.5,11.01, 42.8,11.31, 44.1,11.11, 45.8,11.9, 47.1,11.71, 48.4,11.51, 49.7,11.81, 51,11.71, 52.3,10.32, 53.6,9.03, 54.9,9.42, 56.3,9.33, 57.9,8.93, 59.5,8.63, 61.1,8.53, 62.8,8.23, 64.1,7.54, 65.8,7.44, 67.3,7.44, 68.9,7.24, 70.6,7.14, 72.3,7.1, 73.6,7.44, 74.9,7.94];
const mt11Black = [-15.8,-1.2, -14.7,0.4, -13.4,1.09, -12.1,1.15, -10.8,1.09, -9.5,1.88, -8.2,2.08, -6.9,3.47, -5.6,4.37, -4.3,5.36, -3,5.95, -1.7,6.35, -0.4,6.75, 0.9,7.14, 2.2,6.75, 3.5,6.05, 4.8,6.35, 5.9,6.75, 7.2,6.55, 8.1,5.16, 9,6.15, 10.3,5.16, 11.6,3.57, 12.9,1.59, 13.9,0, 15.2,-1.2, 16.5,0.4, 17.8,-0.2, 19.1,-0.3, 21.1,-0.4, 23,-0.4, 25,-0.5, 27,-0.6, 28.5,-0.4, 29.8,-0.5, 31.1,-0.69, 32.4,-0.2, 33.7,0.4, 35,0.5, 36.3,0.3, 37.6,0.99, 38.9,0.79, 40.2,0.89, 41.5,0.6, 42.8,0.3, 44.1,-0.1, 45.4,-0.4, 46.7,-0.6];
const mt11Gray = [-9.5,-1.2, -8.2,0.2, -6.9,1.19, -5.6,0.99, -4.3,0.6, -3,0.4, -1.7,0.3, -0.4,0.4, 0.9,0.89, 2,1.79, 2.9,2.98, 3.8,3.77, 5.1,4.76, 6.4,5.56, 7.4,5.95, 8.5,5.16, 9.4,4.76, 10.7,4.46, 12,4.37, 13.3,4.66, 14.6,4.17, 15.9,4.76, 17.2,3.57, 18.5,2.58, 19.8,1.98, 21.1,1.49, 22.4,0.6, 23.7,0.4, 25.4,0.1, 27,0, 28.5,-0.2, 30.2,-0.5, 31.9,-0.4, 33.5,-0.5, 35,-0.3, 36.7,0.4, 38.4,0.89, 40,0.6, 41.5,0.4, 43.2,0, 44.9,-0.4, 46.5,-0.69];
const mt11Light = [-6.9,-1.2, -5.6,-0.5, -4.3,0, -3,-0.4, -1.7,-0.2, -0.4,-0.3, 0.9,0.4, 2.2,0.99, 3.5,1.19, 4.8,1.59, 6.1,1.98, 7.4,2.38, 8.7,2.98, 10,3.57, 11.3,4.07, 12.6,4.76, 13.7,5.36, 14.6,6.35, 15.5,5.75, 16.5,6.05, 17.8,5.56, 19.1,5.85, 20.4,5.36, 21.7,5.95, 23,5.26, 24.3,5.75, 25.7,5.26, 26.7,4.37, 27.6,2.78, 28.5,0.99, 29.8,0.6, 31.1,0, 32.4,-0.2, 33.7,0.1, 35,-0.4, 36.3,-0.1, 37.6,0, 38.9,0.2, 40.2,0.6, 41.5,0.3, 42.8,0.79, 44.1,0.5, 45.4,0, 46.7,-0.4, 48,-0.79, 49.3,-0.2, 50.7,0.2, 52,-0.4, 53.3,0.4, 54.6,-0.69, 56.3,-0.89, 58.2,-0.79, 59.5,-0.5, 60.8,-0.3];
const mt11Rings = [0,10.5, 8,10.5, 40,10.5, 48,10.5, 0,4.45, 7.2,4.45, 8,4.45, 15.2,4.45, 16,4.45, 24,4.45];

const mt12BlackTop = [-25.1,8.05, -23.2,7.95, -21.9,8.25, -20.2,8.94, -18.6,8.45, -17.1,8.15, -15.4,7.95, -13.7,8.74, -12.1,9.24, -10.5,9.43, -8.9,9.24, -7.2,9.34, -5.6,9.63, -4,10.03, -2.3,10.52, -1,10.91, 0.3,11.7, 1.6,10.81, 2.9,9.83, 4.2,10.12, 5.5,10.52, 7.2,10.81, 8.7,10.62, 10,9.83, 11.3,8.55, 12.9,7.85, 14.6,8.05, 16.3,8.15, 17.8,8.55, 19.4,8.35, 21.1,7.95, 22.8,7.66, 24.3,8.05, 25.9,7.95, 27.6,7.85];
const mt12GrayTop = [-25.1,8.05, -23.2,8.15, -21.5,8.55, -20.2,9.24, -18.6,8.74, -17.1,8.64, -15.4,8.74, -13.7,8.15, -12.1,8.09, -10.5,8.29, -8.9,8.55, -7.2,8.64, -5.6,8.35, -4,8.05, -2.3,7.76, -0.7,7.95, 0.9,8.15, 2.5,8.35, 4.2,7.62, 5.9,7.95, 7.4,8.09, 9,7.95, 10.7,8.05, 12.4,8.25, 13.9,8.05, 15.5,8.15, 17.2,8.05, 18.9,8.25, 20.4,7.85, 22,7.62, 23.3,7.56, 24.6,8.05, 25.9,9.24, 27.2,9.04, 28.5,9.34, 29.8,9.83, 31.5,10.22, 33.2,10.12, 34.8,10.32, 36.7,10.32, 38.7,10.26, 40.6,10.22, 42.6,10.12, 44.5,10.03, 46.2,10.52, 47.8,11.11, 49.3,10.62, 51,10.32, 52.7,10.72, 54.3,11.01, 55.6,10.22, 56.9,9.73, 58.5,9.24, 60.2,9.04, 61.8,9.04];
const mt12BlackMid = [-25.1,4.1, -23.6,3.91, -22.3,3.55, -20.6,4.1, -18.9,4.4, -17.3,4.2, -15.8,4.1, -14.1,4.14, -12.4,4.3, -10.8,4.5, -9.2,4.8, -7.6,5.09, -5.9,5.39, -4.3,5.88, -2.7,6.18, -1.4,6.47, -0.1,6.71, 1.2,6.28, 2.5,5.98, 3.8,5.78, 4.8,6.08, 6.1,6.47, 7.4,6.77, 8.7,6.18, 10,5.68, 11.3,5.19, 12.6,4.6, 13.9,3.91, 15.5,4.01, 17.2,4.1, 18.9,3.91, 20.4,3.71, 22,3.61, 23.7,3.81, 25.4,3.61, 27,3.51, 28.3,3.32, 29.6,3.91, 30.9,4.5, 32.2,4.8];
const mt12GrayMid = [-25.1,3.61, -23.2,3.71, -21.2,3.91, -19.3,4.1, -17.3,4.3, -15.4,4.1, -13.4,4.01, -11.5,3.91, -9.8,3.81, -8.2,4.4, -6.6,4.89, -4.9,5.39, -3.3,5.78, -1.7,6.08, -0.1,5.88, 1.2,5.68, 2.5,6.08, 3.8,6.37, 5.1,6.57, 6.4,6.67, 7.7,6.57, 9,6.37, 10.3,6.08, 11.6,6.47, 12.9,6.87, 13.9,7.07, 15.2,6.47, 16.5,5.88, 17.8,5.29, 19.4,4.8, 21.1,4.5, 22.8,4.3, 24.6,4.1, 26.3,4.01, 28,4.1, 29.6,4.1, 31.5,4.3];
const mt12Black = [-11.8,-0.04, -10.2,0.36, -8.5,0.85, -6.9,1.44, -5.3,1.84, -3.6,2.13, -2,2.33, -0.4,2.53, 1.2,2.92, 2.9,2.82, 4.6,2.62, 6.1,2.49, 7.7,2.62, 9.4,2.53, 10.7,2.23, 12,0.55, 13.3,-0.24, 15,-0.04, 16.5,0.06, 18.1,0.26, 19.8,-0.04, 21.5,0, 23,0.06, 24.6,0.16, 26.3,0.16, 28,-0.04, 29.6,-0.24, 31.1,-0.14, 32.8,-0.04, 34.5,0.16, 36.1,0.06, 37.6,0.26, 39.3,0.16, 41,0.36, 42.6,0.26, 44.1,0.06, 45.8,-0.24, 47.5,-0.34];
const mt12Gray = [-12.1,0.45, -10.5,0.16, -8.9,0.55, -7.2,0.85, -5.3,0.85, -3.6,0.55, -2,0.16, -0.4,-0.04, 1.2,0.16, 2.5,0.36, 3.8,0.06, 5.1,-0.24, 6.8,-0.24, 8.5,0.06, 10,0.36, 11.3,0.55, 12.9,0.26, 14.6,-0.14, 16.3,-0.14, 17.8,-0.34, 19.4,-0.43, 21.1,-0.04, 22.4,0.55, 24.1,1.14, 25.7,1.64, 27.2,2.03, 28.9,2.33, 30.6,2.72, 31.9,3.12, 33.2,3.22, 34.5,3.02, 36.1,2.92, 37.6,3.02, 38.9,3.12, 40.2,3.22, 41.5,1.93, 42.8,0.55, 44.1,0.16, 45.8,-0.24, 47.5,-0.34, 49.1,-0.04, 51,0.16];
const mt12Rings = [0,10, 8,10, 48,10, 56,10, 0,5.9, 7.5,5.9, 8.2,5.9, 15.5,5.9, 0,2.09, 8,2.09, 32,2.09, 40,2.09];

const mt13Black = [-18,-1.2, -17.1,1.18, -16,2.09, -15,2.27, -14.1,1.0, -13.2,2.64, -12.4,3.64, -11.5,3.18, -10.5,2.73, -9.5,2.27, -8.5,0.82, -7.6,2.27, -6.6,2.82, -5.6,2.0, -4.6,2.64, -3.6,3.09, -2.7,3.36, -1.7,3.64, -0.4,3.73, 0.9,3.82, 2.5,3.76, 3.8,3.82, 5.1,4.09, 6.1,3.64, 7.2,3.76, 8.5,4.27, 9.8,4.09, 11.1,3.55, 12.4,3.09, 13.7,2.27, 14.6,1.18, 15.5,0.09, 16.5,-0.64, 17.6,0, 18.5,0.82, 19.4,1.0, 20.2,2.0, 21.1,1.36, 22,-0.36, 22.8,1.55, 23.7,2.27, 24.6,1.91, 25.7,0.64, 26.7,-0.27, 27.6,0.45, 28.5,1.18, 29.6,-0.09, 30.6,1.0, 31.5,0.64, 32.4,0.09, 33.5,0.64, 34.5,-0.27, 35.4,1.0, 36.3,0.45, 37.4,1.36, 38.4,0.64, 39.3,1.18, 40.2,0.27, 41.3,1.82, 42.3,0.73, 43.2,1.55, 44.1,0.82, 45.2,1.64, 46.2,2.64, 47.1,2.09, 48,2.36, 49.1,1.0, 50.1,0.45, 51,-0.27, 52,-1.2, 53,0.45, 54,0.82, 54.9,0.45, 55.9,1.0, 56.9,0.27, 57.9,0.45, 58.9,1.09, 59.8,0.64, 60.8,0, 61.8,0.27, 62.8,0.64, 63.7,0.27, 64.7,0.45, 65.8,0.09, 66.7,0.45, 67.6,0.82, 68.6,0.45, 69.7,2.0, 70.6,1.18, 71.5,1.0, 72.5,0.45, 73.6,0.27, 74.5,0.64, 75.8,0.73];
const mt13GrayA = [-18,-0.09, -16,-0.36, -14.1,-0.45, -12.1,-0.36, -10.2,-0.55, -8.2,-0.45, -6.3,-0.36, -4.3,-0.09, -2.3,0.27, -0.4,0.36, 1.6,0.27, 3.5,0.09, 5.5,0.27, 6.8,1.18, 8.1,1.91, 9.4,1.55, 10.7,1.18, 12,1.09, 13.3,1.27, 14.6,1.09, 15.9,0.27, 17.2,-0.45, 18.5,-0.27, 20.2,0.09, 21.7,0.09, 23.3,-0.09, 25,0.09, 26.7,0.27, 28.3,0.45, 29.6,0.64, 30.9,0.82, 32.2,0.91, 33.5,1.27, 34.8,1.73, 36.1,2.18, 37.4,2.36, 38.7,2.82, 40,3.18, 41.5,3.55, 43.2,3.82, 44.9,3.95, 46.5,4.09, 48,3.91, 49.7,3.73, 51.4,3.76, 53,3.64, 54.6,3.45, 56.3,3.64, 57.9,3.36, 59.5,3.0, 61.1,2.55, 62.8,2.09, 64.5,1.55, 66,1.0, 67.6,0.36, 69.3,0.09, 71.2,-0.09, 73.2,0.09, 74.9,-0.09, 76.4,0];
const mt13GrayB = [32.2,-0.18, 34.8,0.09, 37.4,-0.09, 40,0.27, 42.6,0, 45.2,0.45, 47.5,0.27, 49.7,0.45, 52,0.27, 53.6,0.64, 54.9,1.09, 56.3,1.64, 57.6,2.27, 58.9,2.91, 60.2,3.55, 61.5,4.18, 62.8,4.55, 64.5,4.78, 66,4.64, 67.3,4.27, 68.6,4.0, 69.9,3.73, 71.2,3.45, 72.5,3.18, 73.8,2.73, 75.1,2.27, 76.4,1.73, 77.7,1.18, 79,0.64, 80.3,0.09, 81.6,-0.36, 82.9,-0.82, 84.2,-1.2];
const mt13GrayC = [-18,0.64, -16,0.27, -14.1,0.45, -12.1,0.09, -10.2,0.27, -8.2,-0.09, -6.3,-0.45, -4.3,-0.27, -2.3,0.09, -0.4,-0.09, 1.6,-0.36, 3.5,-0.27, 5.5,-0.09, 7.4,-0.36, 9.4,0.09, 11.3,-0.27, 13.3,-0.55, 15.2,-0.09, 17.2,0.45, 19.1,0.27, 21.1,-0.18, 23,0.09, 25,0.36, 27,-0.09, 28.9,-0.27, 30.9,0.09, 32.8,0.36, 34.8,0, 36.7,-0.27, 38.7,0.09, 40.6,0.27, 42.6,-0.09, 44.5,0.09, 46.5,0.36, 48.4,0.09, 50.4,-0.18, 52.3,0.27, 54.3,0.45, 56.3,0.18, 58.2,-0.09, 60.2,0.09, 62.1,0.36, 64.1,0, 66,-0.18, 68,0.18, 69.9,0.45, 71.9,0.27, 73.8,0.64, 75.8,1.0, 77.7,1.55, 79.7,2.27, 81.4,3.18, 82.9,4.18, 84.5,4.36, 86.2,4.18, 87.9,4.27, 89.5,4.09, 91,4.27, 92.7,4.18, 94.4,4.45, 95.7,3.91, 97,3.0, 98.3,1.91, 99.6,0.82, 100.9,-0.09, 102.2,-0.82, 103.5,-1.2];
const mt13GrayD = [84.2,-1.2, 85.5,-0.82, 86.8,-0.64, 88.4,-0.27, 90.1,-0.36, 91.8,-0.82, 93.6,-1.2, 95.3,-0.36, 97,0.27, 98.6,0.36, 100.1,0.09, 101.4,-0.09, 102.7,-0.82, 104,-1.2, 105.7,-1.2, 107,-0.45, 108.3,0.27, 109.6,0.64];
const mt13Rings = [0,3, 8,3, 48,3, 56,3, 64,3, 72,3, 87,3, 95,3];

// colours
const K = '#141414', G = '#6f6f6f', LG = '#c2c2c2', RING = '#e3914c';

// panel layout (pixel geometry of each axis box)
const panels = [
  { name: 'MT 1', col: 0, yt: 7, yb: 116.7, ymin: -1.0, ymax: 4.93, yTicks: yTicks4, labelY: 50,
    lines: [[mt1Black, K], [mt1Gray, G]], rings: mt1Rings },
  { name: 'MT 2', col: 0, yt: 173.3, yb: 356.7, ymin: -1.0, ymax: 8.94, yTicks: yTicks8, labelY: 255,
    lines: [[mt2BlackTop, K], [mt2Black, K], [mt2GrayTop, G], [mt2Gray, G]], rings: mt2Rings },
  { name: 'MT 3', col: 0, yt: 411.7, yb: 541.7, ymin: -1.01, ymax: 6.13, yTicks: yTicks6, labelY: 477,
    lines: [[mt3Black, K], [mt3Gray, G]], rings: mt3Rings },
  { name: 'MT 4', col: 0, yt: 598.3, yb: 711, ymin: -1.07, ymax: 4.94, yTicks: yTicks4, labelY: 645,
    lines: [[mt4Black, K], [mt4Gray, G]], rings: mt4Rings },
  { name: 'MT 5', col: 0, yt: 766.7, yb: 874.3, ymin: -0.96, ymax: 4.9, yTicks: yTicks4, labelY: 815,
    lines: [[mt5Black, K], [mt5Gray, G]], rings: mt5Rings },
  { name: 'MT 6', col: 0, yt: 931.7, yb: 1113.3, ymin: -1.0, ymax: 8.9, yTicks: yTicks8, labelY: 963,
    lines: [[mt6BlackTop, K], [mt6Black, K], [mt6GrayTop, G], [mt6Gray, G], [mt6Light, LG]], rings: mt6Rings },
  { name: 'MT 7', col: 0, yt: 1168.3, yb: 1276.7, ymin: -1.0, ymax: 4.96, yTicks: yTicks4, labelY: 1217,
    lines: [[mt7Black, K], [mt7Gray, G]], rings: mt7Rings },
  { name: 'MT 8', col: 1, yt: 6.7, yb: 190.7, ymin: -1.04, ymax: 9.0, yTicks: yTicks8, labelY: 88,
    lines: [[mt8BlackTop, K], [mt8Black, K], [mt8GrayTop, G], [mt8Gray, G], [mt8Light, '#c6cacd']], rings: mt8Rings },
  { name: 'MT 9', col: 1, yt: 243.3, yb: 386, ymin: -0.89, ymax: 7.42, yTicks: yTicks6, labelY: 317,
    lines: [[mt9BlackTop, K], [mt9Black, K], [mt9GrayTop, G], [mt9Gray, G], [mt9LightTop, LG], [mt9Light, LG]], rings: mt9Rings },
  { name: 'MT 10', col: 1, yt: 450, yb: 557.3, ymin: -1.05, ymax: 4.87, yTicks: yTicks4, labelY: 502,
    lines: [[mt10Black, K], [mt10Gray, G]], rings: mt10Rings },
  { name: 'MT 11', col: 1, yt: 616.7, yb: 838, ymin: -1.07, ymax: 12.1, yTicks: yTicks12, labelY: 723,
    lines: [[mt11BlackTop, K], [mt11Black, K], [mt11GrayTop, G], [mt11Gray, G], [mt11Light, LG]], rings: mt11Rings },
  { name: 'MT 12', col: 1, yt: 891.7, yb: 1110, ymin: -0.83, ymax: 12.1, yTicks: yTicks12, labelY: 993,
    lines: [[mt12BlackTop, K], [mt12BlackMid, K], [mt12Black, K], [mt12GrayTop, G], [mt12GrayMid, G], [mt12Gray, G]], rings: mt12Rings },
  { name: 'MT 13', col: 1, yt: 1168.3, yb: 1276.7, ymin: -1.0, ymax: 4.9, yTicks: yTicks4, labelY: 1223,
    lines: [[mt13Black, K], [mt13GrayA, '#505050'], [mt13GrayD, '#6a6a6a'], [mt13GrayB, '#8e8e8e'], [mt13GrayC, '#cfcfcf']], rings: mt13Rings }
];

const cols = [
  { left: 0, width: 470, x0: 70, x1: 442, xmin: -25.49, xmax: 120.39, labelRight: 436 },
  { left: 470, width: 473, x0: 571, x1: 940, xmin: -24.73, xmax: 119.4, labelRight: 939 }
];

const page = document.getElementById('page');
const FONT = '"Liberation Sans", Arial, sans-serif';

// the orange "0" markers
const ring = document.createElement('canvas');
ring.width = 14; ring.height = 22;
const rc = ring.getContext('2d');
rc.strokeStyle = RING; rc.lineWidth = 1.5;
rc.beginPath(); rc.ellipse(7, 11, 4.7, 8.8, 0, 0, Math.PI * 2); rc.stroke();

function pts(a) {
  const out = [];
  for (let i = 0; i < a.length; i += 2) {
    if (a[i] === null) out.push({ x: out[out.length - 1].x, y: null });
    else out.push({ x: a[i], y: a[i + 1] });
  }
  return out;
}

function addLabel(text, css) {
  const d = document.createElement('div');
  d.className = 'lbl';
  d.textContent = text;
  Object.assign(d.style, css);
  page.appendChild(d);
  return d;
}

function makePanel(p) {
  const c = cols[p.col];
  const top = Math.round(p.yt - 22);
  const height = Math.round(p.yb - top + 46);
  const cv = document.createElement('canvas');
  cv.width = c.width; cv.height = height;
  cv.style.left = c.left + 'px'; cv.style.top = top + 'px';
  cv.style.width = c.width + 'px'; cv.style.height = height + 'px';
  page.appendChild(cv);

  const datasets = [{
    type: 'scatter', data: pts(p.rings), pointStyle: ring, pointRadius: 9,
    showLine: false, clip: false
  }];
  p.lines.forEach(([arr, col]) => datasets.push({
    type: 'line', data: pts(arr), borderColor: col, borderWidth: 2,
    pointRadius: 0, tension: 0, fill: false, spanGaps: false
  }));

  const axisStyle = {
    grid: { display: true, drawOnChartArea: false, drawTicks: true, tickLength: 8, color: '#1a1a1a', lineWidth: 2 },
    border: { display: true, color: '#1a1a1a', width: 2 }
  };

  new Chart(cv, {
    data: { datasets },
    options: {
      responsive: false, animation: false, events: [],
      layout: { padding: { top: p.yt - top, right: c.left + c.width - c.x1, left: 0, bottom: 0 } },
      plugins: { legend: { display: false }, tooltip: { enabled: false } },
      scales: {
        x: Object.assign({
          type: 'linear', position: 'bottom', min: c.xmin, max: c.xmax,
          afterBuildTicks: s => { s.ticks = xTicks.map(v => ({ value: v })); },
          afterFit: s => { s.height = height - (p.yb - top); },
          ticks: { font: { family: FONT, size: 19 }, color: '#222', padding: 11, maxRotation: 0, autoSkip: false }
        }, axisStyle),
        y: Object.assign({
          type: 'linear', position: 'left', min: p.ymin, max: p.ymax,
          afterBuildTicks: s => { s.ticks = p.yTicks.map(v => ({ value: v })); },
          afterFit: s => { s.width = c.x0 - c.left; },
          ticks: { font: { family: FONT, size: 19 }, color: '#222', padding: 7, autoSkip: false }
        }, axisStyle)
      }
    }
  });

  addLabel(p.name, { right: (943 - c.labelRight) + 'px', top: p.labelY + 'px', transform: 'translateY(-50%)', fontSize: '23px' });
}

panels.forEach(makePanel);

addLabel('ATP', { left: '919px', top: '342px', transform: 'translate(-50%,-50%)', fontSize: '14px' });
addLabel('only', { left: '920px', top: '360px', transform: 'translate(-50%,-50%)', fontSize: '14px' });
addLabel('height [nm]', { left: '22px', top: '60px', transform: 'translate(-50%,-50%) rotate(-90deg)', fontSize: '21px' });
addLabel('height [nm]', { left: '517px', top: '94px', transform: 'translate(-50%,-50%) rotate(-90deg)', fontSize: '21px' });
addLabel('position [nm]', { left: '255px', top: '1334px', transform: 'translate(-50%,-50%)', fontSize: '20px' });
addLabel('position [nm]', { left: '752px', top: '1332px', transform: 'translate(-50%,-50%)', fontSize: '20px' });
</script>
</body>
</html>
